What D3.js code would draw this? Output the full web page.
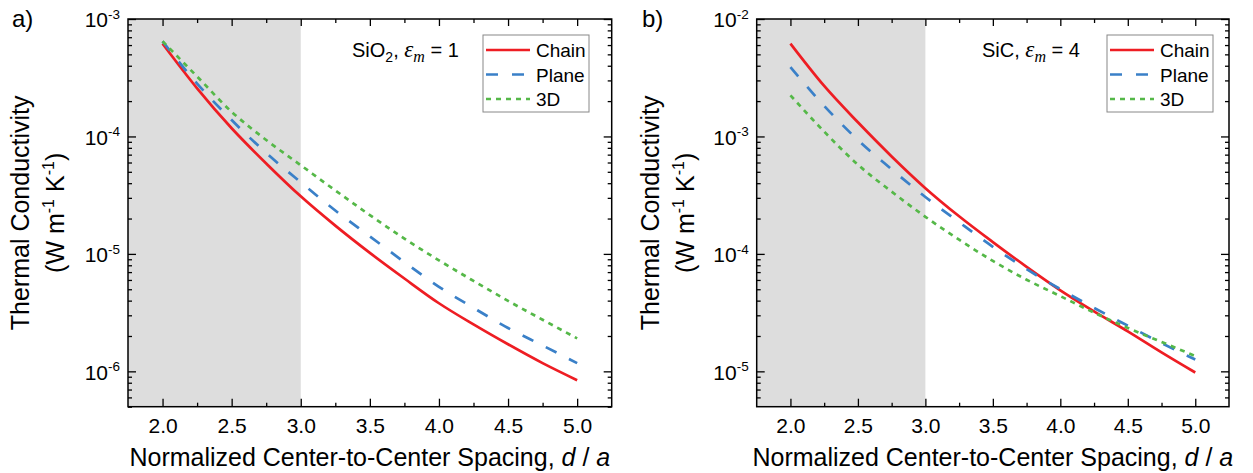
<!DOCTYPE html>
<html>
<head>
<script src="https://d3js.org/d3.v7.min.js"></script>
<style>
	body {
		margin: 0;
		background: #fff;
	}
	svg {
		display: block;
		font-family: "Liberation Sans", Arial, sans-serif;
	}
</style>
</head>
<body>
<svg id="chart" width="1253" height="473"></svg>
<script>
// normalized center-to-center spacing d/a
var spacing = [2.0, 2.25, 2.5, 2.75, 3.0, 3.25, 3.5, 3.75, 4.0, 4.25, 4.5, 4.75, 5.0];

// a) SiO2, eps_m = 1  (W m^-1 K^-1)
var sio2Chain = [6.17e-4, 2.57e-4, 1.175e-4, 5.89e-5, 3.09e-5, 1.74e-5, 1.02e-5, 6.17e-6, 3.80e-6, 2.51e-6, 1.70e-6, 1.175e-6, 8.41e-7];
var sio2Plane = [6.46e-4, 2.82e-4, 1.38e-4, 7.24e-5, 4.07e-5, 2.34e-5, 1.41e-5, 8.51e-6, 5.25e-6, 3.47e-6, 2.34e-6, 1.66e-6, 1.175e-6];
var sio2ThreeD = [6.46e-4, 3.24e-4, 1.62e-4, 9.33e-5, 5.69e-5, 3.47e-5, 2.14e-5, 1.35e-5, 8.81e-6, 5.89e-6, 3.98e-6, 2.75e-6, 1.91e-6];

// b) SiC, eps_m = 4
var sicChain = [6.17e-3, 2.69e-3, 1.32e-3, 6.76e-4, 3.63e-4, 2.09e-4, 1.26e-4, 7.76e-5, 4.90e-5, 3.24e-5, 2.19e-5, 1.45e-5, 9.77e-6];
var sicPlane = [3.89e-3, 1.82e-3, 9.33e-4, 5.25e-4, 3.05e-4, 1.86e-4, 1.15e-4, 7.41e-5, 5.01e-5, 3.47e-5, 2.45e-5, 1.74e-5, 1.26e-5];
var sicThreeD = [2.24e-3, 1.10e-3, 5.75e-4, 3.39e-4, 2.07e-4, 1.32e-4, 8.71e-5, 6.03e-5, 4.37e-5, 3.16e-5, 2.34e-5, 1.78e-5, 1.35e-5];

var seriesNames = ["Chain", "Plane", "3D"];
var xTicks = [2.0, 2.5, 3.0, 3.5, 4.0, 4.5, 5.0];
var xMinorTicks = [2.25, 2.75, 3.25, 3.75, 4.25, 4.75];
var yExpA = [-6, -5, -4, -3];
var yExpB = [-5, -4, -3, -2];
var shadeEnd = 3.0;

var colors = ["#ee1d23", "#3a80c8", "#55b848"];
var dashes = [null, "12,14", "5,5"];

var svg = d3.select("#chart");

////////////////////////////
// one panel
////////////////////////////
function drawPanel(p) {
	var x = d3.scaleLinear().domain([1.75, 5.25]).range([p.left, p.right]);
	var y = d3.scaleLog().domain(p.yDomain).range([p.bottom, p.top]);
	var g = svg.append("g");

	// shaded region
	g.append("rect")
		.attr("x", x(1.75))
		.attr("y", p.top)
		.attr("width", x(shadeEnd) - x(1.75))
		.attr("height", p.bottom - p.top)
		.attr("fill", "#dddddd");

	// log minor ticks
	var yMinor = [];
	var lo = Math.floor(Math.log10(p.yDomain[0])), hi = Math.log10(p.yDomain[1]);
	for (var e = lo; e < hi; e++) {
		for (var k = 2; k <= 9; k++) {
			var v = k * Math.pow(10, e);
			if (v >= p.yDomain[0] && v <= p.yDomain[1]) yMinor.push(v);
		}
	}
	var yMajor = p.yExp.map(function(e) { return Math.pow(10, e); });

	function addAxis(axis, tr) {
		var a = g.append("g").attr("transform", tr).call(axis);
		a.select(".domain").remove();
		a.selectAll("line").attr("stroke", "#000").attr("stroke-width", 1.3);
		return a;
	}

	addAxis(d3.axisBottom(x).tickValues(xMinorTicks).tickSize(-4).tickFormat(""), "translate(0," + p.bottom + ")");
	addAxis(d3.axisTop(x).tickValues(xMinorTicks).tickSize(-4).tickFormat(""), "translate(0," + p.top + ")");
	var xb = addAxis(d3.axisBottom(x).tickValues(xTicks).tickSize(-8).tickPadding(11).tickFormat(d3.format(".1f")), "translate(0," + p.bottom + ")");
	xb.selectAll("text").attr("font-size", 21).attr("fill", "#000").attr("font-family", "Liberation Sans, Arial, sans-serif");
	addAxis(d3.axisTop(x).tickValues(xTicks).tickSize(-7).tickFormat(""), "translate(0," + p.top + ")");

	addAxis(d3.axisLeft(y).tickValues(yMinor).tickSize(-4).tickFormat(""), "translate(" + p.left + ",0)");
	addAxis(d3.axisRight(y).tickValues(yMinor).tickSize(-4).tickFormat(""), "translate(" + p.right + ",0)");
	addAxis(d3.axisLeft(y).tickValues(yMajor).tickSize(-8).tickFormat(""), "translate(" + p.left + ",0)");
	addAxis(d3.axisRight(y).tickValues(yMajor).tickSize(-8).tickFormat(""), "translate(" + p.right + ",0)");

	// 10^n labels
	p.yExp.forEach(function(e) {
		var t = g.append("text")
			.attr("x", p.left - 8)
			.attr("y", y(Math.pow(10, e)) + 8.4)
			.attr("text-anchor", "end")
			.attr("font-size", 21);
		t.append("tspan").text("10");
		t.append("tspan").attr("dy", -8.4).attr("font-size", 13.5).text(String(e));
	});

	// frame
	g.append("rect")
		.attr("x", p.left).attr("y", p.top)
		.attr("width", p.right - p.left).attr("height", p.bottom - p.top)
		.attr("fill", "none").attr("stroke", "#000").attr("stroke-width", 1.5);

	// curves
	var line = d3.line()
		.x(function(d) { return x(d[0]); })
		.y(function(d) { return y(d[1]); })
		.curve(d3.curveMonotoneX);
	p.series.forEach(function(s, i) {
		g.append("path")
			.datum(spacing.map(function(d, j) { return [d, s[j]]; }))
			.attr("d", line)
			.attr("fill", "none")
			.attr("stroke", colors[i])
			.attr("stroke-width", 2.7)
			.attr("stroke-dasharray", dashes[i]);
	});

	// legend
	g.append("rect")
		.attr("x", p.legendX).attr("y", 35)
		.attr("width", 106).attr("height", 77)
		.attr("fill", "#fff").attr("stroke", "#888").attr("stroke-width", 1);
	seriesNames.forEach(function(n, i) {
		var ly = 50 + i * 24.5;
		g.append("line")
			.attr("x1", p.legendX + 3).attr("x2", p.legendX + 47)
			.attr("y1", ly).attr("y2", ly)
			.attr("stroke", colors[i]).attr("stroke-width", 2.7)
			.attr("stroke-dasharray", dashes[i]);
		g.append("text")
			.attr("x", p.legendX + 53).attr("y", ly + 7)
			.attr("font-size", 19).text(n);
	});

	// material note
	var note = g.append("text").attr("x", p.noteX).attr("y", 57).attr("font-size", 20);
	note.append("tspan").text(p.material);
	if (p.sub) note.append("tspan").attr("dy", 5).attr("font-size", 14).text(p.sub);
	note.append("tspan").attr("dy", p.sub ? -5 : 0).text(", ");
	note.append("tspan").attr("font-family", "Liberation Serif, serif").attr("font-style", "italic").attr("font-size", 23).text("\u03B5");
	note.append("tspan").attr("dy", 5).attr("font-family", "Liberation Serif, serif").attr("font-style", "italic").attr("font-size", 16).text("m");
	note.append("tspan").attr("dy", -5).text(" = " + p.eps);

	// axis titles
	var cx = (p.left + p.right) / 2;
	var xt = g.append("text").attr("x", cx).attr("y", 466).attr("text-anchor", "middle").attr("font-size", 25);
	xt.append("tspan").text("Normalized Center-to-Center Spacing, ");
	xt.append("tspan").attr("font-style", "italic").text("d");
	xt.append("tspan").text(" / ");
	xt.append("tspan").attr("font-style", "italic").text("a");

	var cy = (p.top + p.bottom) / 2;
	g.append("text")
		.attr("transform", "translate(" + (p.titleX) + "," + cy + ") rotate(-90)")
		.attr("text-anchor", "middle").attr("font-size", 25)
		.text("Thermal Conductivity");
	var yt = g.append("text")
		.attr("transform", "translate(" + (p.titleX + 35) + "," + cy + ") rotate(-90)")
		.attr("text-anchor", "middle").attr("font-size", 25);
	yt.append("tspan").text("(W m");
	yt.append("tspan").attr("dy", -10).attr("font-size", 16).text("-1");
	yt.append("tspan").attr("dy", 10).text(" K");
	yt.append("tspan").attr("dy", -10).attr("font-size", 16).text("-1");
	yt.append("tspan").attr("dy", 10).text(")");

	// panel letter
	g.append("text").attr("x", p.letterX).attr("y", 27).attr("font-size", 24).text(p.letter);
}

drawPanel({
	left: 128, right: 611.7, top: 19, bottom: 406.7,
	yDomain: [5e-7, 1e-3], yExp: yExpA,
	series: [sio2Chain, sio2Plane, sio2ThreeD],
	legendX: 483, noteX: 352, material: "SiO", sub: "2", eps: "1",
	titleX: 29, letter: "a)", letterX: 12
});
drawPanel({
	left: 756.7, right: 1229, top: 19, bottom: 406.7,
	yDomain: [5e-6, 1e-2], yExp: yExpB,
	series: [sicChain, sicPlane, sicThreeD],
	legendX: 1107, noteX: 982, material: "SiC", sub: null, eps: "4",
	titleX: 659, letter: "b)", letterX: 642
});
</script>
</body>
</html>
